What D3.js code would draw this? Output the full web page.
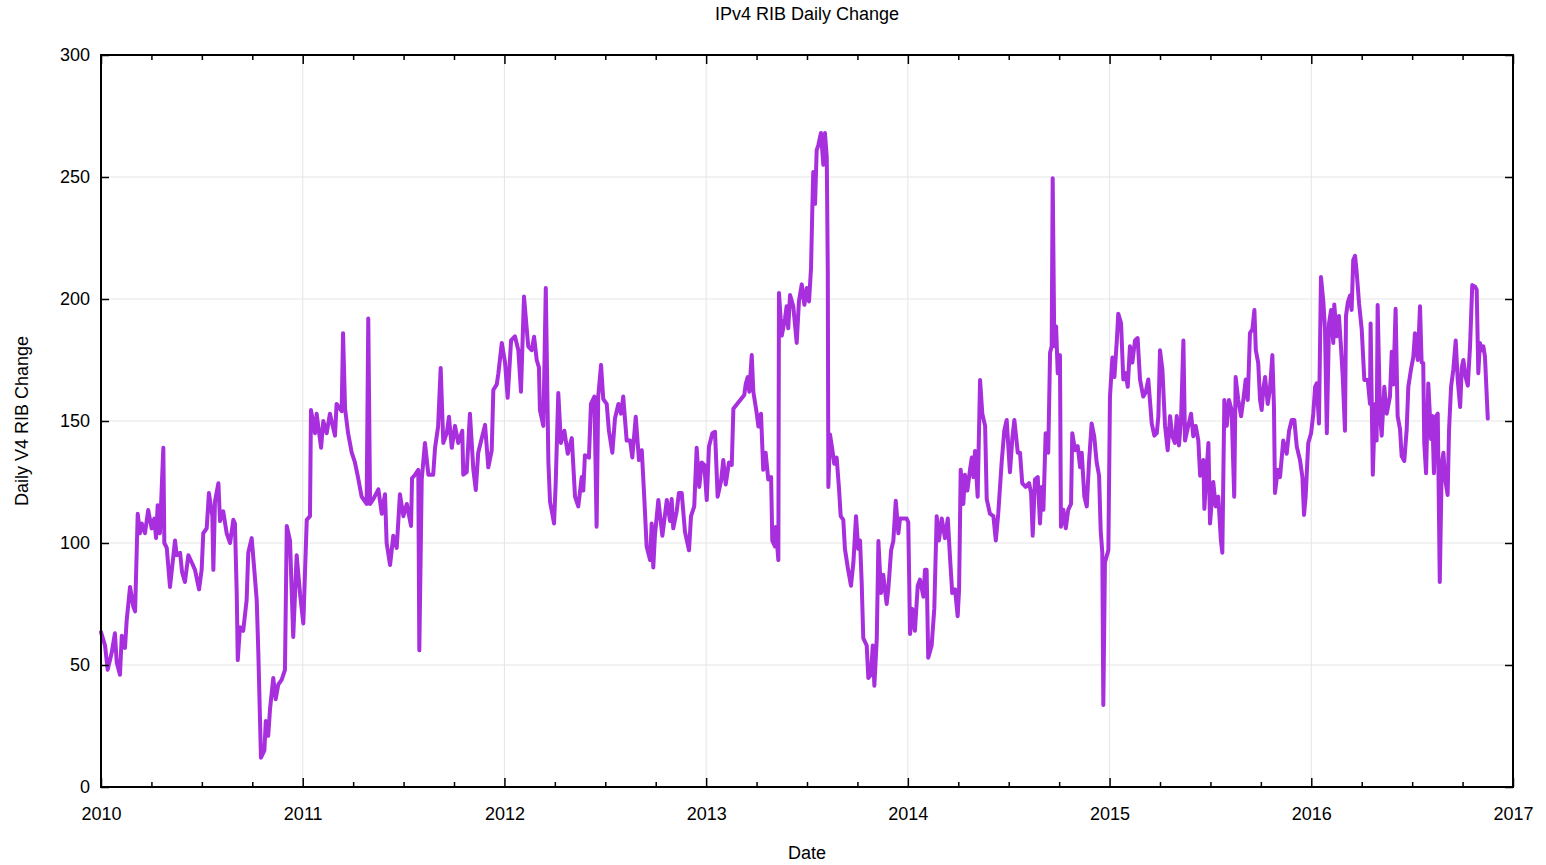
<!DOCTYPE html>
<html><head><meta charset="utf-8">
<script src="https://cdn.jsdelivr.net/npm/d3@7"></script>
<style>
html,body{margin:0;padding:0;background:#fff;}
svg{display:block;font-family:"Liberation Sans",Arial,Helvetica,sans-serif;}
</style></head>
<body>
<svg id="chart" width="1546" height="865"></svg>
<script>
const title = "IPv4 RIB Daily Change";
const xLabel = "Date";
const yLabel = "Daily V4 RIB Change";
const yearTicks = [2010, 2011, 2012, 2013, 2014, 2015, 2016, 2017];
const valueTicks = [0, 50, 100, 150, 200, 250, 300];
// offsets in years from 2010-01-01
const yearOffsets = [
0.000,0.020,0.033,0.053,0.069,0.078,0.094,0.103,0.119,0.127,0.144,0.160,0.169,0.182,0.193,0.202,0.218,0.234,0.251,0.264,
0.273,0.281,0.292,0.309,0.314,0.326,0.342,0.367,0.375,0.392,0.402,0.416,0.433,0.450,0.466,0.486,0.499,0.507,0.524,0.535,
0.552,0.557,0.565,0.582,0.590,0.606,0.623,0.640,0.656,0.664,0.673,0.678,0.689,0.705,0.722,0.730,0.747,0.760,0.772,0.780,
0.793,0.810,0.817,0.829,0.838,0.854,0.866,0.879,0.896,0.912,0.921,0.937,0.953,0.970,0.987,1.003,1.020,1.036,1.041,1.061,
1.069,1.091,1.102,1.119,1.135,1.160,1.168,1.193,1.200,1.210,1.225,1.243,1.259,1.274,1.292,1.317,1.325,1.334,1.350,1.375,
1.392,1.408,1.416,1.433,1.449,1.466,1.482,1.499,1.516,1.537,1.542,1.557,1.573,1.578,1.590,1.606,1.623,1.647,1.656,1.671,
1.684,1.697,1.714,1.725,1.739,1.755,1.771,1.791,1.796,1.813,1.829,1.846,1.858,1.870,1.887,1.904,1.920,1.937,1.945,1.962,
1.970,1.987,2.003,2.016,2.033,2.052,2.069,2.082,2.097,2.118,2.135,2.147,2.160,2.171,2.176,2.193,2.205,2.218,2.226,2.246,
2.254,2.267,2.280,2.297,2.314,2.334,2.350,2.366,2.383,2.391,2.399,2.419,2.429,2.446,2.457,2.465,2.479,2.490,2.507,2.518,
2.535,2.548,2.565,2.578,2.589,2.606,2.623,2.634,2.651,2.667,2.681,2.693,2.705,2.722,2.730,2.738,2.746,2.763,2.783,2.805,
2.821,2.829,2.837,2.854,2.865,2.879,2.895,2.915,2.925,2.941,2.953,2.966,2.978,2.991,3.003,3.014,3.031,3.044,3.057,3.074,
3.085,3.097,3.113,3.127,3.135,3.189,3.196,3.206,3.214,3.226,3.234,3.251,3.259,3.272,3.283,3.295,3.308,3.322,3.328,3.341,
3.345,3.358,3.361,3.375,3.391,3.399,3.407,3.416,3.432,3.449,3.460,3.474,3.487,3.499,3.510,3.520,3.526,3.531,3.540,3.548,
3.556,3.569,3.581,3.589,3.598,3.603,3.606,3.614,3.626,3.635,3.647,3.659,3.667,3.680,3.688,3.702,3.718,3.730,3.743,3.754,
3.763,3.771,3.779,3.796,3.804,3.817,3.826,3.834,3.846,3.854,3.867,3.878,3.895,3.903,3.917,3.928,3.940,3.953,3.961,3.977,
3.994,4.002,4.011,4.022,4.035,4.049,4.060,4.077,4.085,4.093,4.101,4.118,4.131,4.143,4.154,4.168,4.184,4.198,4.209,4.220,
4.234,4.247,4.254,4.262,4.275,4.283,4.295,4.308,4.317,4.325,4.333,4.346,4.358,4.369,4.383,4.391,4.407,4.424,4.436,4.448,
4.465,4.478,4.490,4.506,4.518,4.528,4.545,4.556,4.567,4.584,4.601,4.611,4.619,4.630,4.644,4.655,4.664,4.672,4.683,4.696,
4.705,4.713,4.718,4.726,4.735,4.743,4.754,4.759,4.771,4.783,4.795,4.809,4.815,4.829,4.842,4.854,4.862,4.875,4.887,4.898,
4.911,4.924,4.936,4.948,4.956,4.964,4.969,4.977,4.994,5.002,5.014,5.024,5.036,5.043,5.057,5.068,5.080,5.090,5.101,5.113,
5.126,5.139,5.151,5.167,5.179,5.192,5.209,5.222,5.234,5.242,5.250,5.262,5.275,5.288,5.300,5.311,5.324,5.333,5.344,5.354,
5.366,5.374,5.390,5.404,5.415,5.427,5.440,5.449,5.465,5.470,5.482,5.490,5.498,5.514,5.526,5.539,5.552,5.559,5.569,5.581,
5.592,5.605,5.618,5.625,5.638,5.652,5.663,5.675,5.685,5.696,5.708,5.718,5.725,5.737,5.746,5.754,5.762,5.771,5.784,5.795,
5.807,5.815,5.820,5.834,5.845,5.861,5.878,5.890,5.903,5.916,5.928,5.944,5.956,5.964,5.972,5.985,5.999,6.010,6.019,6.027,
6.038,6.048,6.060,6.068,6.077,6.088,6.098,6.109,6.114,6.126,6.137,6.147,6.156,6.167,6.172,6.181,6.192,6.200,6.208,6.217,
6.225,6.237,6.250,6.263,6.280,6.291,6.294,6.305,6.316,6.324,6.329,6.341,6.349,6.362,6.374,6.390,6.399,6.407,6.418,6.428,
6.440,6.448,6.461,6.473,6.481,6.494,6.506,6.514,6.528,6.539,6.547,6.555,6.560,6.569,6.580,6.594,6.600,6.608,6.618,6.627,
6.637,6.647,6.655,6.663,6.676,6.683,6.693,6.704,6.716,6.726,6.738,6.746,6.754,6.765,6.776,6.787,6.798,6.812,6.820,6.828,
6.836,6.845,6.853,6.861,6.875
];
const ribChange = [
63.5,58,48,55,63,51,46,62,57,68,82,74,72,112,104,108,104,113.5,106,110,
102,115.5,104,139,100,98,82,101,95,96,88,84,95,92,89,81,89,104,106,120.5,
111,89,117,124.5,109,113,104,100,109.5,108,79,52,65.5,64,76.6,96,102,89,76.6,55,
12,15,27,21,32,44.7,36,42,44,48,107,101,61.5,95,79,67,109.5,111,154.5,145,
153,139,150,145,153,144,157,154,186,155,145,137,133,127,119,116,192,116,118,122,
112,120,100,91,103,98,120,111,116,107,126.5,128,130,56,126,141,128,128,139,147.6,
171.7,141,145,151.7,139,148,141,146,128,129,153,130,121.7,137,142.7,148.4,131,138,162.7,165,
169.6,182,174,159.5,183,184.7,179,162,201,180.6,179,184.5,175,172,154.5,148,204.5,133,117,108,
124,161.5,141,146,136.6,143,119,115,127,121.5,136,135,157,160,106.7,160,173,159,157,146,
137,151,157,153,160,142,142,135,151.7,134,138,119,98.6,93,108,90,103,117.6,103,117.6,
109,118,106,113,120.5,120.5,104.6,97,111,115,139,123,133,132,117.6,139.5,145,145.6,119,125.5,
134,124,133,132,155,160.7,165,168,162,177,162,153,147.7,153,130,137,126,127,101,98.6,
106.6,93,202.5,185,192,197,188,201.6,197,182,199,206,197.6,204.5,199,212.7,235.5,252,239,261,
263,268,255,268,258,212,123,144.5,138,132.5,135,122,111,109.5,97.6,90,82.5,92,111,97.6,
101,84,61,58,44.7,46,58,41.5,61,100.8,79.5,87,75,81,97,100.8,117.3,104,110,110,
110,108.5,62.7,73,64,82.5,85,78,89,89,53,58,73,111,101,110,102,110,94,79.5,
81,70,81,130,116,128,121.5,130,135,127,137.7,119,166.8,153,148,118,112,111,101,112,
133,146,150.4,129,143,150.4,137,137,124.5,123,124.5,120.4,103,126,127,108,123,113.6,145,137,
178,180.6,249.5,180.6,188.7,169.6,177,106.7,113.6,106,113.6,116,145,138,139.7,131,137,119,115,133,
149,143.7,133,127.6,105,96,33.6,92,97,160,176,168,183,194,190,167,169.6,164,180.6,174,
183,184,167,160,161.7,167,149,144,145,152,179,171,148,138,152,143.7,141,152,140,150,
183,142,148,153,143.7,148,142,127.6,134,114,131,141,108,125,115,119,101,96,158.6,148,
158.6,154.5,119,168,158.6,152,158.6,167,158.6,186,187.6,195.5,179,173.7,158.6,154.5,163,168,157,163,
177,155.7,120.5,130,127,142,136.6,146,150.4,150.4,139.5,134,127,111.5,119,141,145,153,164,165.4,
149,209,198.6,187.6,145,190,195.5,182,197.7,184.7,193,180.6,168,146,193,198.6,201.4,195.5,216,217.7,
211,198,187.6,166.8,166.8,157,190,128,157,142,197.5,152,144,164,153,160,178.4,165,196,152,
146.6,135.6,133.6,146.6,164,171,176.4,186,175,197,174,173.7,141,128.6,165.4,142.6,152,128.6,152,153,
84,132.7,137,126.6,119.7,146.6,164,171,183,166.8,155.7,172,175,168,164.5,180.6,205.7,205,203.8,169.6,
182,179,180.6,176.4,151
];
const startYear = 2010;

const W = 1546, H = 865;
const margin = {left:101, right:33, top:55, bottom:78};
const svg = d3.select("#chart");
const x = d3.scaleLinear().domain([2010, 2017]).range([margin.left, W - margin.right]);
const y = d3.scaleLinear().domain([0, 300]).range([H - margin.bottom, margin.top]);

const data = yearOffsets.map((o, i) => ({t: startYear + o, v: ribChange[i]}));

// grid
const grid = svg.append("g").attr("stroke", "#e5e5e5").attr("stroke-width", 1);
yearTicks.slice(1, -1).forEach(t => grid.append("line")
  .attr("x1", x(t)).attr("x2", x(t)).attr("y1", y(0)).attr("y2", y(300)));
valueTicks.slice(1, -1).forEach(v => grid.append("line")
  .attr("x1", x(2010)).attr("x2", x(2017)).attr("y1", y(v)).attr("y2", y(v)));

// line
svg.append("path").datum(data)
  .attr("fill", "none").attr("stroke", "#a72fde").attr("stroke-width", 4)
  .attr("stroke-linejoin", "round").attr("stroke-linecap", "round")
  .attr("d", d3.line().x(d => x(d.t)).y(d => y(d.v)));

// axes
const minorTicks = d3.range(2010, 2017.001, 0.25).filter(t => Math.abs(t - Math.round(t)) > 1e-6);
function styleAxis(g){
  g.selectAll(".domain").remove();
  g.selectAll(".tick line").attr("stroke", "#000").attr("stroke-width", 1.5);
  g.selectAll(".tick text").attr("fill", "#000").attr("font-size", 18)
   .attr("font-family", "Liberation Sans, Arial, sans-serif");
}
const xb = svg.append("g").attr("transform", `translate(0,${y(0)})`)
  .call(d3.axisBottom(x).tickValues(yearTicks).tickFormat(d3.format("d")).tickSizeInner(-9).tickSizeOuter(0).tickPadding(20));
styleAxis(xb);
const xbm = svg.append("g").attr("transform", `translate(0,${y(0)})`)
  .call(d3.axisBottom(x).tickValues(minorTicks).tickFormat("").tickSizeInner(-5).tickSizeOuter(0));
styleAxis(xbm);
const xt = svg.append("g").attr("transform", `translate(0,${y(300)})`)
  .call(d3.axisTop(x).tickValues(yearTicks).tickFormat("").tickSizeInner(-9).tickSizeOuter(0));
styleAxis(xt);
const xtm = svg.append("g").attr("transform", `translate(0,${y(300)})`)
  .call(d3.axisTop(x).tickValues(minorTicks).tickFormat("").tickSizeInner(-5).tickSizeOuter(0));
styleAxis(xtm);
const yl = svg.append("g").attr("transform", `translate(${x(2010)},0)`)
  .call(d3.axisLeft(y).tickValues(valueTicks).tickSizeInner(-8).tickSizeOuter(0).tickPadding(11));
styleAxis(yl);
const yr = svg.append("g").attr("transform", `translate(${x(2017)},0)`)
  .call(d3.axisRight(y).tickValues(valueTicks).tickFormat("").tickSizeInner(-8).tickSizeOuter(0));
styleAxis(yr);

// frame
svg.append("rect").attr("x", x(2010)).attr("y", y(300))
  .attr("width", x(2017) - x(2010)).attr("height", y(0) - y(300))
  .attr("fill", "none").attr("stroke", "#000").attr("stroke-width", 2);

// texts
svg.append("text").attr("x", (x(2010) + x(2017)) / 2).attr("y", 20)
  .attr("text-anchor", "middle").attr("font-size", 18).text(title);
svg.append("text").attr("x", (x(2010) + x(2017)) / 2).attr("y", 859)
  .attr("text-anchor", "middle").attr("font-size", 18).text(xLabel);
svg.append("text").attr("transform", `translate(28,${(y(0) + y(300)) / 2}) rotate(-90)`)
  .attr("text-anchor", "middle").attr("font-size", 18).text(yLabel);
</script>
</body></html>
